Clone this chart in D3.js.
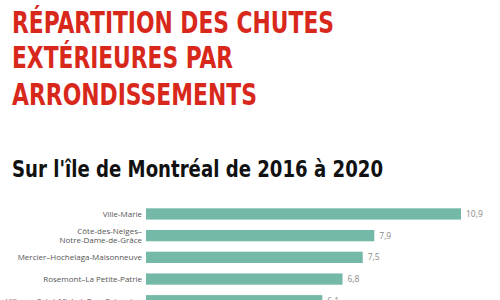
<!DOCTYPE html>
<html>
<head>
<meta charset="utf-8">
<script src="https://cdn.jsdelivr.net/npm/d3@7"></script>
<style>
  html, body { margin: 0; padding: 0; background: #ffffff; }
  svg { display: block; }
</style>
</head>
<body>
<script>
// ---- data ----
const titleLines = ["RÉPARTITION DES CHUTES", "EXTÉRIEURES PAR", "ARRONDISSEMENTS"];
const subtitle = "Sur l'île de Montréal de 2016 à 2020";
const categories = [
  "Ville-Marie",
  "Côte-des-Neiges–\nNotre-Dame-de-Grâce",
  "Mercier–Hochelaga-Maisonneuve",
  "Rosemont–La Petite-Patrie",
  "Villeray–Saint-Michel–Parc-Extension"
];
const values = [10.9, 7.9, 7.5, 6.8, 6.1];
const valueLabels = ["10,9", "7,9", "7,5", "6,8", "6,1"];

// ---- layout ----
const W = 500, H = 300;
const svg = d3.select("body").append("svg").attr("width", W).attr("height", H);

const titleFont = "'Liberation Sans Narrow', 'DejaVu Sans Condensed', 'Arial Narrow', sans-serif";
const titleWidths = [322, 221, 245];
const titleBaselines = [33, 68, 105];
titleLines.forEach((t, i) => {
  svg.append("text")
    .attr("x", 12).attr("y", titleBaselines[i])
    .attr("font-family", titleFont)
    .attr("font-weight", "bold")
    .attr("font-size", 30)
    .attr("fill", "#d8281b")
    .attr("textLength", titleWidths[i])
    .attr("lengthAdjust", "spacingAndGlyphs")
    .text(t);
});

svg.append("text")
  .attr("x", 12).attr("y", 177)
  .attr("font-family", titleFont)
  .attr("font-weight", "bold")
  .attr("font-size", 23)
  .attr("fill", "#111111")
  .attr("textLength", 371)
  .attr("lengthAdjust", "spacingAndGlyphs")
  .text(subtitle);

const x = d3.scaleLinear().domain([0, 10.9]).range([146, 461]);
const y = d3.scaleBand().domain(categories)
  .range([203.1, 203.1 + 5 * 21.7])
  .paddingInner(0.48).paddingOuter(0.24);

const g = svg.append("g");

g.selectAll("rect.bar").data(categories).join("rect")
  .attr("class", "bar")
  .attr("x", x(0))
  .attr("y", d => y(d))
  .attr("height", y.bandwidth())
  .attr("width", (d, i) => x(values[i]) - x(0))
  .attr("fill", "#74b9a8");

g.selectAll("text.val").data(categories).join("text")
  .attr("class", "val")
  .attr("x", (d, i) => x(values[i]) + 5)
  .attr("y", d => y(d) + y.bandwidth() / 2 + 3)
  .attr("font-family", "'Open Sans', sans-serif")
  .attr("font-size", 8.5)
  .attr("fill", "#8a8a8a")
  .text((d, i) => valueLabels[i]);

const yAxis = d3.axisLeft(y).tickSize(0).tickPadding(0);
const ax = svg.append("g").attr("transform", "translate(142,0)").call(yAxis);
ax.select(".domain").remove();
ax.selectAll(".tick text").each(function(d) {
  const t = d3.select(this);
  const lines = d.split("\n");
  t.text(null)
    .attr("font-family", "'Open Sans', sans-serif")
    .attr("font-size", 8)
    .attr("fill", "#555555")
    .attr("text-anchor", "end")
    .attr("dy", null)
    .attr("x", 0);
  const lh = 9.5;
  const start = -((lines.length - 1) * lh) / 2 + 3;
  lines.forEach((ln, i) => {
    t.append("tspan").attr("x", 0).attr("y", start + i * lh).text(ln);
  });
});
</script>
</body>
</html>
